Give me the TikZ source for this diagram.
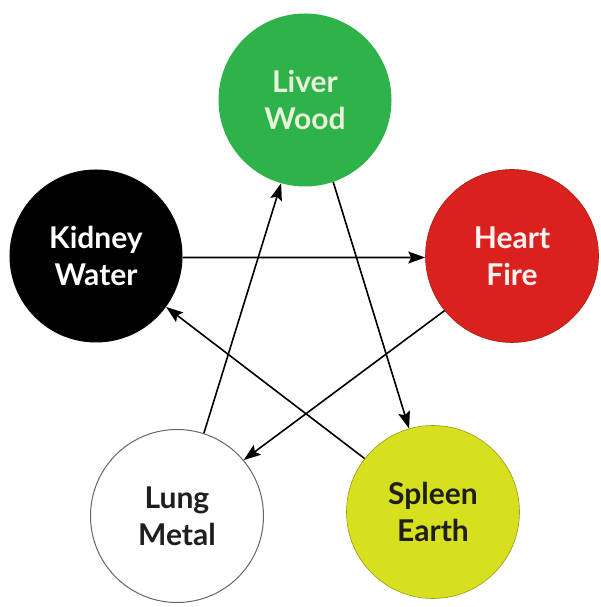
\documentclass[tikz,border=0pt]{standalone}
\usepackage{fontspec}
\setmainfont{Lato}
\usetikzlibrary{arrows.meta}
\definecolor{woodgreen}{HTML}{2EB34A}
\definecolor{firered}{HTML}{DA211E}
\definecolor{earthyellow}{HTML}{D6E01F}
\definecolor{woodtext}{HTML}{E6F2DA}
\definecolor{darktext}{HTML}{1E1E1E}
\begin{document}
\begin{tikzpicture}[x=1pt,y=1pt,
  organ/.style={circle,minimum size=173pt,inner sep=0pt,align=center,
    font=\fontsize{30}{37}\selectfont\bfseries},
  flow/.style={line width=1.6pt,-{Stealth[length=17pt,width=12pt,inset=3pt]}}]
\useasboundingbox (0,0) rectangle (601,607);
\node[organ,fill=woodgreen,text=woodtext] (liver) at (305,507) {Liver\\Wood};
\node[organ,fill=black,text=white] (kidney) at (96,351) {Kidney\\Water};
\node[organ,fill=firered,draw=firered!80!black,line width=0.6pt,text=white!95!red] (heart) at (512,351) {Heart\\Fire};
\node[organ,fill=white,draw=black!60,line width=1pt,text=darktext] (lung) at (177,91) {Lung\\Metal};
\node[organ,fill=earthyellow,draw=earthyellow!70!black,line width=0.6pt,text=darktext] (spleen) at (433,95) {Spleen\\Earth};
\draw[flow] (kidney.-1) -- (heart.181);
\draw[flow] (liver.-71) -- (spleen.106);
\draw[flow] (heart.-141) -- (lung.40);
\draw[flow] (spleen.142) -- (kidney.-36);
\draw[flow] (lung.72) -- (liver.-106);
\end{tikzpicture}
\end{document}
